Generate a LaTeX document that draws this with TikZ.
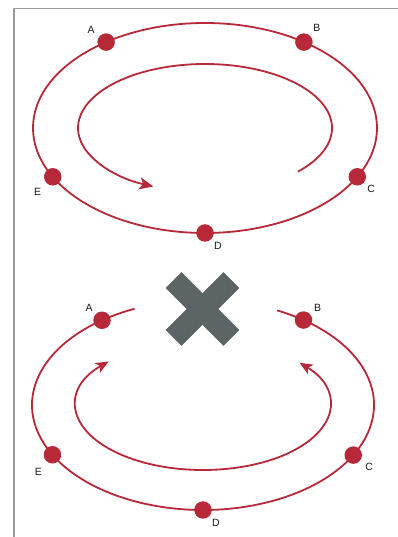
\documentclass[tikz,border=0pt]{standalone}
\usepackage{fontspec}
\setmainfont{Liberation Sans}
\usetikzlibrary{arrows.meta,calc}
\definecolor{cred}{HTML}{B72838}
\definecolor{cgray}{HTML}{5C6566}
\definecolor{cframe}{HTML}{9A9A9A}
\begin{document}
\begin{tikzpicture}[x=1pt,y=1pt,
  ring/.style={draw=cred,line width=1.8pt},
  dot/.style={circle,fill=cred,inner sep=0pt,minimum size=17.5pt},
  lab/.style={font=\fontsize{10.5}{12}\selectfont,text=black!90,inner sep=0pt},
  tip/.style={-{Stealth[length=14pt,width=12pt,inset=3.5pt]}},
  tips/.style={{Stealth[length=13pt,width=11pt,inset=3.5pt]}-{Stealth[length=13pt,width=11pt,inset=3.5pt]}}]
\useasboundingbox (0,0) rectangle (398,537);
\draw[cframe,line width=1.2pt] (14,0) -- (14,528.5) -- (398,528.5);
% top
\coordinate (t) at (205,409);
\draw[ring] (t) ellipse [x radius=172, y radius=105];
\draw[ring,tip] ($(t)+(-43:127 and 64)$) arc[start angle=-43,end angle=246,x radius=127,y radius=64];
\node[dot] (tA) at ($(t)+(125.1:172 and 105)$) {};
\node[dot] (tB) at ($(t)+(54.9:172 and 105)$) {};
\node[dot] (tC) at ($(t)+(-27.7:172 and 105)$) {};
\node[dot] (tD) at ($(t)+(-90:172 and 105)$) {};
\node[dot] (tE) at ($(t)+(207.7:172 and 105)$) {};
\node[lab] (ltA) at ($(tA)+(-15,12)$) {A};
\node[lab] (ltB) at ($(tB)+(13,14)$) {B};
\node[lab] (ltC) at ($(tC)+(14,-12)$) {C};
\node[lab] (ltD) at ($(tD)+(13,-13)$) {D};
\node[lab] (ltE) at ($(tE)+(-15,-15)$) {E};
% bottom
\coordinate (b) at (203,132);
\draw[ring] ($(b)+(113.6:171 and 105)$) arc[start angle=113.6,end angle=424.3,x radius=171,y radius=105];
\draw[ring,tips] ($(b)+(138:127 and 65)$) arc[start angle=138,end angle=400.5,x radius=127,y radius=65];
\node[dot] (bA) at ($(b)+(126.2:171 and 105)$) {};
\node[dot] (bB) at ($(b)+(54:171 and 105)$) {};
\node[dot] (bC) at ($(b)+(-28.5:171 and 105)$) {};
\node[dot] (bD) at ($(b)+(-90:171 and 105)$) {};
\node[dot] (bE) at ($(b)+(208.3:171 and 105)$) {};
\node[lab] (lbA) at ($(bA)+(-13,12)$) {A};
\node[lab] (lbB) at ($(bB)+(14,12)$) {B};
\node[lab] (lbC) at ($(bC)+(16,-12)$) {C};
\node[lab] (lbD) at ($(bD)+(13,-13)$) {D};
\node[lab] (lbE) at ($(bE)+(-14,-17)$) {E};
% cross
\coordinate (x) at (202.5,228);
\fill[cgray,rotate around={45:(x)}] ($(x)+(-41,-11.3)$) rectangle ($(x)+(41,11.3)$);
\fill[cgray,rotate around={-45:(x)}] ($(x)+(-41,-11.3)$) rectangle ($(x)+(41,11.3)$);
\end{tikzpicture}
\end{document}
